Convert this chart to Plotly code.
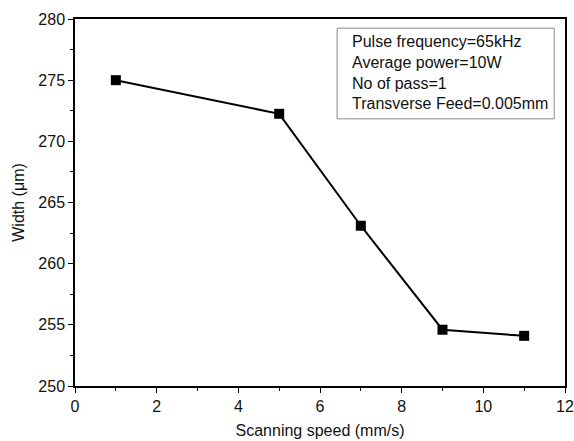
import plotly.graph_objects as go

speed = [1, 5, 7, 9, 11]
width = [275.0, 272.25, 263.1, 254.6, 254.1]
info_lines = ["Pulse frequency=65kHz", "Average power=10W", "No of pass=1", "Transverse Feed=0.005mm"]

FONT = "Liberation Sans, Arial, sans-serif"

fig = go.Figure()
fig.add_trace(go.Scatter(
    x=speed, y=width, mode="lines+markers",
    line=dict(color="black", width=2),
    marker=dict(symbol="square", size=10, color="black"),
    showlegend=False,
))

axis_common = dict(
    showgrid=False, zeroline=False, showline=True, linecolor="black", linewidth=1.5,
    mirror=True, ticks="outside", ticklen=5, tickwidth=1.2, tickcolor="black",
    tickfont=dict(family=FONT, size=16, color="#111"),
    minor=dict(ticks="outside", ticklen=3, tickwidth=1, tickcolor="black"),
    automargin=False,
)

fig.update_xaxes(range=[0, 12], dtick=2, tick0=0,
                 title=dict(text="Scanning speed (mm/s)", font=dict(family=FONT, size=16, color="#111"), standoff=11),
                 **axis_common)
fig.update_yaxes(range=[250, 280], dtick=5, tick0=250,
                 title=dict(text="Width (μm)", font=dict(family=FONT, size=16, color="#111"), standoff=10),
                 **axis_common)
fig.update_xaxes(minor_dtick=1)
fig.update_yaxes(minor_dtick=2.5)

fig.add_shape(type="rect", xref="paper", yref="paper", x0=0.535, x1=0.978, y0=0.728, y1=0.975,
              line=dict(color="#888", width=1), fillcolor="white")
fig.add_annotation(xref="paper", yref="paper", x=0.561, y=0.968, xanchor="left", yanchor="top",
                   align="left", showarrow=False, text="<br>".join(info_lines),
                   font=dict(family=FONT, size=16, color="#111"))

fig.update_layout(
    width=574, height=441, margin=dict(l=75, r=9, t=19, b=55),
    plot_bgcolor="white", paper_bgcolor="white",
)
fig.write_html("out.html")
